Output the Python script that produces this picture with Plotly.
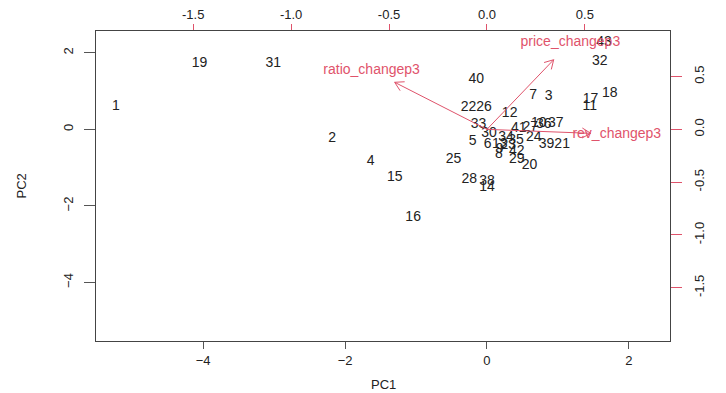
import math
import plotly.graph_objects as go

# ---- data ----
obs_labels = [str(i) for i in range(1, 44)]
pc1 = [-5.23, -2.18, 0.87, -1.64, -0.20, 0.01, 0.65, 0.17, 0.18, 0.73,
       1.45, 0.32, 0.18, 0.00, -1.30, -1.04, 1.46, 1.73, -4.05, 0.60,
       1.06, -0.26, 0.30, 0.66, -0.47, -0.04, 0.61, -0.25, 0.42, 0.03,
       -3.01, 1.59, -0.12, 0.27, 0.41, 0.80, 0.97, 0.00, 0.84, -0.15,
       0.45, 0.42, 1.65]
pc2 = [0.61, -0.23, 0.86, -0.84, -0.31, -0.39, 0.89, -0.65, -0.53, 0.16,
       0.61, 0.41, -0.39, -1.52, -1.25, -2.29, 0.78, 0.93, 1.73, -0.94,
       -0.40, 0.58, -0.42, -0.20, -0.79, 0.57, 0.05, -1.31, -0.79, -0.10,
       1.72, 1.78, 0.13, -0.21, -0.29, 0.13, 0.16, -1.35, -0.39, 1.30,
       0.03, -0.57, 2.26]

var_names = ["price_changep3", "ratio_changep3", "rev_changep3"]
load1 = [0.426, -0.589, 0.663]
load2 = [0.824, 0.557, -0.047]

pc_ticks = [-4, -2, 0, 2]
load_ticks = [-1.5, -1.0, -0.5, 0.0, 0.5]
load_ticktext = ["-1.5", "-1.0", "-0.5", "0.0", "0.5"]

# ---- styling / geometry ----
RED = "#DF536B"
INK = "#222222"
FONT = "Liberation Sans, Arial, sans-serif"
W, H = 726, 393
ML, MR, MT, MB = 96, 56, 31, 52
xlim = [-5.51, 2.58]
ylim = [-5.53, 2.57]
ratio = 2.76
x2lim = [v / ratio for v in xlim]
y2lim = [v / ratio for v in ylim]
sx = (W - ML - MR) / (x2lim[1] - x2lim[0])   # px per unit (secondary x)
sy = (H - MT - MB) / (y2lim[1] - y2lim[0])   # px per unit (secondary y)

fig = go.Figure()

# observation labels
fig.add_trace(go.Scatter(
    x=pc1, y=pc2, mode="text", text=obs_labels,
    textfont=dict(family=FONT, size=14, color=INK),
    textposition="middle center", hoverinfo="skip", showlegend=False,
))

# arrows (shaft to 0.8 * loading, open V head)
ax, ay = [], []
head_len, head_ang = 10.0, math.radians(30)
for lx, ly in zip(load1, load2):
    tx, ty = 0.8 * lx, 0.8 * ly
    ax += [0, tx, None]
    ay += [0, ty, None]
    th = math.atan2(ty * sy, tx * sx)
    for s in (1, -1):
        a = th + s * head_ang
        hx = tx - head_len * math.cos(a) / sx
        hy = ty - head_len * math.sin(a) / sy
        ax += [tx, hx, None]
        ay += [ty, hy, None]
fig.add_trace(go.Scatter(
    x=ax, y=ay, mode="lines", line=dict(color=RED, width=1),
    xaxis="x2", yaxis="y2", hoverinfo="skip", showlegend=False,
))

# variable labels
fig.add_trace(go.Scatter(
    x=load1, y=load2, mode="text", text=var_names,
    textfont=dict(family=FONT, size=14, color=RED),
    textposition="middle center", cliponaxis=False,
    xaxis="x2", yaxis="y2", hoverinfo="skip", showlegend=False,
))

common = dict(showgrid=False, zeroline=False, ticks="outside", automargin=False,
              tickfont=dict(family=FONT, size=13, color=INK))

fig.update_layout(
    width=W, height=H,
    margin=dict(l=ML, r=MR, t=MT, b=MB, autoexpand=False),
    paper_bgcolor="white", plot_bgcolor="white",
    showlegend=False,
    xaxis=dict(range=xlim, tickvals=pc_ticks, ticklen=7, tickcolor="#555",
               showline=True, mirror=True, linecolor="#444", linewidth=1,
               **common),
    yaxis=dict(range=ylim, tickvals=pc_ticks, ticklen=11, tickcolor="#555",
               tickangle=-90, showline=True, mirror=True, linecolor="#444",
               linewidth=1, ticklabelstandoff=6, **common),
    xaxis2=dict(range=x2lim, overlaying="x", side="top", tickvals=load_ticks,
                ticktext=load_ticktext, ticklen=6, tickcolor=RED,
                showline=False, **common),
    yaxis2=dict(range=y2lim, overlaying="y", side="right", tickvals=load_ticks,
                ticktext=load_ticktext, ticklen=11, tickcolor=RED,
                tickangle=-90, showline=False, ticklabelstandoff=6, **common),
    annotations=[
        dict(text="PC1", xref="paper", yref="paper", x=0.5, y=0,
             xanchor="center", yanchor="top", yshift=-34, showarrow=False,
             font=dict(family=FONT, size=13, color=INK)),
        dict(text="PC2", xref="paper", yref="paper", x=0, y=0.5,
             xanchor="right", yanchor="middle", xshift=-66, textangle=-90,
             showarrow=False, font=dict(family=FONT, size=13, color=INK)),
    ],
)

# remove the browser's default 8px body margin so the figure fills the window
fig.write_html(
    "out.html",
    config={"displayModeBar": False},
    post_script="document.body.style.margin='0';document.body.style.overflow='hidden';",
)
